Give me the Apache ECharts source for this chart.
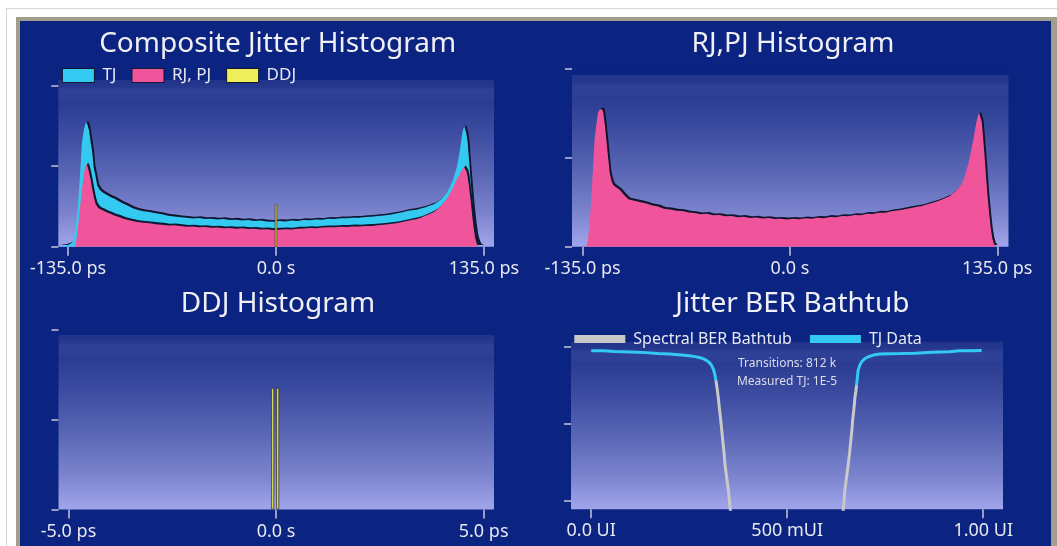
<!DOCTYPE html>
<html><head><meta charset="utf-8">
<script src="https://cdn.jsdelivr.net/npm/echarts@6/dist/echarts.min.js"></script>
<style>
html,body{margin:0;padding:0;background:#fff;width:1057px;height:546px;overflow:hidden;}
#outer{position:absolute;left:6px;top:8px;width:1070px;height:560px;border:1px solid #d6d6d6;box-sizing:border-box;}
#frame{position:absolute;left:16px;top:17px;width:1060px;height:560px;background:#a29e8a;}
#panel{position:absolute;left:20px;top:21px;width:1031px;height:560px;background:#0b2381;}
#chart{position:absolute;left:0;top:0;width:1057px;height:546px;}
</style></head>
<body>
<div id="outer"></div><div id="frame"></div><div id="panel"></div>
<div id="chart"></div>
<script>
// ---------- DATA ----------
// Composite jitter histogram (x in ps)
const compX = [
  -141.5,-137,-134,-132.5,-131,-130,-129,-128,-127,-126,-125,-124,-123.2,-122.3,-121.3,-120.3,-119.3,-118.3,-117.2,-116,-114.5,
  -112.5,-110,-107.5,-105,-102,-99,-96,-93,-90,
  -86,-82,-78,-74,-70,-66,-62,-58,-54,-50,-46,-42,-38,-34,-30,-26,-22,-18,-14,-10,-6,-2,
  2,6,10,14,18,22,26,30,34,38,42,46,50,54,58,62,66,70,74,78,82,
  85,88,91,94,97,100,102.5,105,107,109,111,112.9,114.5,116,117.3,118.5,119.5,120.5,121.3,122,122.8,123.6,124.4,125.2,126,127,128,129.1,130.2,131.3,132.4,134,141.5
];
const compTJ = [
  0,0.6,1.5,2.5,5,12,22,33,48,64,71,75.5,77.2,75.5,72,65,59,49,44,38,35.3,
  33.6,32.2,30.8,29.9,28.2,26.6,25.4,23.9,22.9,
  22.0,21.5,20.7,20.1,19.2,18.8,18.3,17.9,17.5,17.8,17.2,17.4,16.9,17.2,16.6,16.8,16.2,16.5,15.9,16.2,15.6,15.5,
  15.9,15.7,16.2,16.0,16.6,16.4,16.9,16.7,17.3,17.2,17.7,17.6,18.0,17.9,18.4,18.6,19.0,19.3,19.9,20.6,21.4,
  22.1,22.6,23.0,23.7,24.5,25.6,26.4,27.9,29.4,31.3,33.6,37.0,40.5,44.8,49.4,55,61,67.9,72,74.5,73,70,65,55,45,33.5,22.7,13.5,6.2,2.5,0.5,0,0
];
const compRJ = [
  0,0,0,0,0,1.5,8,17,26,35.5,43,49,51.3,49.8,46,41.5,36,31,26.8,24.8,23.4,
  22.6,21.4,20.5,19.3,18.5,17.3,16.5,16.0,15.3,
  14.9,14.5,14.0,13.7,13.2,13.3,12.8,12.4,12.5,12.1,12.2,11.8,11.9,11.5,11.6,11.2,11.4,11.0,11.1,10.7,10.8,10.4,
  10.6,10.8,10.7,11.2,11.3,11.6,11.5,11.9,12.1,12.0,12.4,12.3,12.6,12.5,12.8,12.9,13.3,13.6,14.1,14.6,15.3,
  15.9,16.5,17.1,17.9,19.2,20.5,21.6,23.4,25.3,27.4,29.8,33.0,35.9,38.9,41.6,43.6,45.5,47.4,48.6,49.4,48.8,46.8,43.5,38.0,31.5,22.7,14.0,6.2,2.2,0.3,0,0,0
];
// DDJ components (x in ps)
const ddjX = [-0.08, 0.04];
const compDDJ = [26.3, 26.3];
const ddjY = [67.7, 67.7];

// RJ,PJ histogram (x in ps)
const rjX = [
  -142,-134,-132,-130.5,-129.4,-128.3,-127.2,-126.1,-125,-124,-123.2,-122.4,-121.6,-120.6,-119.5,-118.4,-117.3,-116.2,-115.1,-113,-110.7,-108,-105.2,-102,-98,-94,-90,-86,-82,
  -78,-74,-70,-66,-62,-58,-54,-50,-46,-42,-38,-34,-30,-26,-22,-18,-14,-10,-6,-2,
  2,6,10,14,18,22,26,30,34,38,42,46,50,54,58,62,66,70,74,78,
  82,86,90,93,96,99,102,104,106,108,110,112,113.5,115,116.3,117.5,118.7,119.8,120.8,121.7,122.5,123.2,124,124.9,125.8,126.8,127.8,128.8,129.8,130.8,131.8,132.8,134,142
];
const rjY = [
  0,0,0.5,12,26,43,60,68,74.8,76.8,77.6,77,75.5,69,59.8,50,41.1,37,34.6,33.2,31.8,29.0,26.6,25.9,25.1,24.3,23.2,22.6,21.3,
  20.9,20.2,20.0,19.2,18.9,18.2,18.4,17.6,17.8,17.0,17.2,16.5,16.8,16.1,16.4,15.8,16.1,15.5,15.7,15.3,
  15.6,15.4,15.9,15.7,16.2,16.0,16.7,16.5,17.2,17.0,17.7,17.6,18.5,18.3,19.1,19.0,19.9,20.3,20.9,21.6,
  22.2,22.8,23.9,24.6,25.5,26.4,27.6,28.3,29.8,31.2,33.0,35.4,38.5,43,47,52,57,62,67,71,73.5,74.8,74,70,61,50,38,27,18,10,4.5,1.5,0,0
];

// Jitter BER bathtub (x in UI, y = log10 BER)
const tjLeftX  = [0,0.03,0.06,0.1,0.14,0.17,0.2,0.23,0.25,0.265,0.278,0.287,0.295,0.302,0.307,0.311,0.314,0.316,0.318];
const tjLeftY  = [-0.31,-0.32,-0.38,-0.41,-0.46,-0.52,-0.57,-0.64,-0.70,-0.77,-0.86,-0.95,-1.08,-1.25,-1.45,-1.7,-1.98,-2.25,-2.6];
const specLeftX = [0.318,0.321,0.324,0.327,0.330,0.333,0.336,0.339,0.341,0.344,0.347,0.350,0.353,0.356];
const specLeftY = [-2.6,-3.2,-3.9,-4.8,-5.6,-6.49,-7.4,-8.3,-9.09,-9.8,-10.5,-11.17,-12.1,-13];
const specRightX = [0.677,0.675,0.673,0.670,0.667,0.665,0.662,0.659,0.656,0.653,0.650,0.647,0.645,0.642];
const specRightY = [-2.99,-3.5,-3.9,-4.9,-5.7,-6.49,-7.4,-8.3,-9.09,-9.8,-10.5,-11.17,-12.0,-13];
const tjRightX = [0.677,0.679,0.681,0.685,0.690,0.697,0.707,0.72,0.737,0.76,0.79,0.828,0.87,0.914,0.94,0.97,0.996];
const tjRightY = [-2.99,-2.4,-1.82,-1.45,-1.17,-0.95,-0.78,-0.65,-0.57,-0.55,-0.53,-0.5,-0.44,-0.39,-0.32,-0.31,-0.30];

// Tick values and labels
const histTickVals = [-135, 0, 135];
const histTickLabels = ['-135.0 ps', '0.0 s', '135.0 ps'];
const ddjTickVals = [-5, 0, 5];
const ddjTickLabels = ['-5.0 ps', '0.0 s', '5.0 ps'];
const tubTickVals = [0, 0.5, 1];
const tubTickLabels = ['0.0 UI', '500 mUI', '1.00 UI'];
const histYTicks = [0, 50, 100];
const tubYTicks = [0, -6, -12];

const titles = ['Composite Jitter Histogram', 'RJ,PJ Histogram', 'DDJ Histogram', 'Jitter BER Bathtub'];
const compLegend = ['TJ', 'RJ, PJ', 'DDJ'];
const tubLegend = ['Spectral BER Bathtub', 'TJ Data'];
const tubNotes = ['Transitions: 812 k', 'Measured TJ: 1E-5'];

// ---------- STYLE ----------
const NAVY = '#0b2381';
const CYAN = '#33c9f0';
const PINK = '#f0559b';
const YELLOW = '#eeee5a';
const GRAY = '#c9c9c9';
const OUTLINE = 'rgba(12,16,40,0.95)';
const TXT = '#e8e8f0';
const FONT = '"Noto Sans", "Open Sans", sans-serif';
const PLOT_STOPS = [[0,'#21338a'],[0.04,'#26388d'],[0.06,'#2f4196'],[0.11,'#2e4096'],[0.13,'#2a3c91'],[0.3,'#3a4a9f'],[0.55,'#5865b4'],[0.8,'#7b83cd'],[1,'#a1a6eb']];
function plotBg(navyFrac) {
  const stops = [];
  if (navyFrac > 0) stops.push({offset: 0, color: NAVY}, {offset: navyFrac, color: NAVY});
  PLOT_STOPS.forEach(([o, c]) => stops.push({offset: navyFrac + o * (1 - navyFrac), color: c}));
  return {type: 'linear', x: 0, y: 0, x2: 0, y2: 1, colorStops: stops};
}
const zip = (xs, ys) => xs.map((x, i) => [x, ys[i]]);

function xAxis(idx, min, max, vals, labels) {
  return {
    type: 'value', gridIndex: idx, min: min, max: max, position: 'bottom',
    axisLine: {show: false, onZero: false}, splitLine: {show: false},
    axisTick: {show: true, length: 9, customValues: vals, lineStyle: {color: '#c8c8d8', width: 1.5}},
    axisLabel: {show: true, customValues: vals, margin: 13, color: TXT, fontSize: 18, fontFamily: FONT,
      formatter: v => labels[vals.indexOf(v)]}
  };
}
function yAxis(idx, min, max, vals) {
  return {
    type: 'value', gridIndex: idx, min: min, max: max, position: 'left',
    axisLine: {show: false, onZero: false}, splitLine: {show: false}, axisLabel: {show: false},
    axisTick: {show: true, length: 7, customValues: vals, lineStyle: {color: '#c8c8d8', width: 1.5}}
  };
}
const areaShadow = color => ({color: color, opacity: 1, shadowColor: OUTLINE, shadowOffsetX: 1.8, shadowOffsetY: -1.8, shadowBlur: 0.5});

const chart = echarts.init(document.getElementById('chart'), null, {renderer: 'canvas', devicePixelRatio: 1});
chart.setOption({
  animation: false,
  backgroundColor: 'transparent',
  grid: [
    {left: 58.3, top: 80, width: 435.7, height: 166.7, show: true, borderWidth: 0, backgroundColor: plotBg(0)},
    {left: 572, top: 68.3, width: 436.5, height: 178.4, show: true, borderWidth: 0, backgroundColor: plotBg(0.038)},
    {left: 58.5, top: 330, width: 435.5, height: 179.5, show: true, borderWidth: 0, backgroundColor: plotBg(0.028)},
    {left: 571, top: 341.7, width: 432, height: 167.6, show: true, borderWidth: 0, backgroundColor: plotBg(0)}
  ],
  xAxis: [
    xAxis(0, -141.3, 141.5, histTickVals, histTickLabels),
    xAxis(1, -141.9, 142.3, histTickVals, histTickLabels),
    xAxis(2, -5.24, 5.25, ddjTickVals, ddjTickLabels),
    xAxis(3, -0.0515, 1.0505, tubTickVals, tubTickLabels)
  ],
  yAxis: [
    yAxis(0, 0, 103.5, histYTicks),
    yAxis(1, 0, 100, histYTicks),
    yAxis(2, 0, 100, histYTicks),
    yAxis(3, -12.65, 0.39, tubYTicks)
  ],
  legend: [
    {left: 61.9, top: 67, padding: 0, itemWidth: 32, itemHeight: 14, itemGap: 15, selectedMode: false,
     textStyle: {color: TXT, fontSize: 17, fontFamily: FONT, padding: [0, 0, 0, 3]},
     data: [
       {name: compLegend[0], icon: 'rect', itemStyle: {color: CYAN, borderColor: '#14182e', borderWidth: 1}},
       {name: compLegend[1], icon: 'rect', itemStyle: {color: PINK, borderColor: '#14182e', borderWidth: 1}},
       {name: compLegend[2], icon: 'rect', itemStyle: {color: YELLOW, borderColor: '#14182e', borderWidth: 1}}
     ]},
    {left: 574.3, top: 331, padding: 0, itemWidth: 51, itemHeight: 8, itemGap: 18, selectedMode: false,
     textStyle: {color: TXT, fontSize: 16, fontFamily: FONT, padding: [0, 0, 0, 3]},
     data: [
       {name: tubLegend[0], icon: 'rect', itemStyle: {color: GRAY, borderWidth: 0}},
       {name: tubLegend[1], icon: 'rect', itemStyle: {color: CYAN, borderWidth: 0}}
     ]}
  ],
  graphic: [
    {type: 'text', x: 277.7, y: 44, style: {text: titles[0], fill: '#f0f0f4', font: '28px ' + FONT, textAlign: 'center', textVerticalAlign: 'middle'}},
    {type: 'text', x: 793, y: 44, style: {text: titles[1], fill: '#f0f0f4', font: '28px ' + FONT, textAlign: 'center', textVerticalAlign: 'middle'}},
    {type: 'text', x: 278, y: 304, style: {text: titles[2], fill: '#f0f0f4', font: '28px ' + FONT, textAlign: 'center', textVerticalAlign: 'middle'}},
    {type: 'text', x: 792.4, y: 304, style: {text: titles[3], fill: '#f0f0f4', font: '28px ' + FONT, textAlign: 'center', textVerticalAlign: 'middle'}},
    {type: 'text', x: 787, y: 364, style: {text: tubNotes[0], fill: '#dcdce8', font: '12px ' + FONT, textAlign: 'center', textVerticalAlign: 'middle'}},
    {type: 'text', x: 787, y: 381.5, style: {text: tubNotes[1], fill: '#dcdce8', font: '12px ' + FONT, textAlign: 'center', textVerticalAlign: 'middle'}}
  ],
  series: [
    {name: compLegend[0], type: 'line', xAxisIndex: 0, yAxisIndex: 0, data: zip(compX, compTJ), symbol: 'none',
     lineStyle: {opacity: 0}, itemStyle: {color: CYAN}, areaStyle: areaShadow(CYAN), z: 2},
    {name: compLegend[1], type: 'line', xAxisIndex: 0, yAxisIndex: 0, data: zip(compX, compRJ), symbol: 'none',
     lineStyle: {opacity: 0}, itemStyle: {color: PINK}, areaStyle: areaShadow(PINK), z: 3},
    {name: compLegend[2], type: 'bar', xAxisIndex: 0, yAxisIndex: 0, data: zip(ddjX, compDDJ), barWidth: 2, barGap: '-100%',
     itemStyle: {color: '#e8d24a', borderColor: '#3c3a28', borderWidth: 0.5}, z: 4},
    {type: 'line', xAxisIndex: 1, yAxisIndex: 1, data: zip(rjX, rjY), symbol: 'none',
     lineStyle: {opacity: 0}, itemStyle: {color: PINK}, areaStyle: areaShadow(PINK), z: 3},
    {type: 'bar', xAxisIndex: 2, yAxisIndex: 2, data: zip(ddjX, ddjY), barWidth: 3, barGap: '-100%',
     itemStyle: {color: '#e6e45a', borderColor: '#3a3a30', borderWidth: 0.8}, z: 4},
    {name: tubLegend[0], type: 'line', xAxisIndex: 3, yAxisIndex: 3, data: zip(specLeftX, specLeftY), symbol: 'none',
     lineStyle: {color: GRAY, width: 3}, itemStyle: {color: GRAY}, z: 3},
    {name: tubLegend[0], type: 'line', xAxisIndex: 3, yAxisIndex: 3, data: zip(specRightX, specRightY), symbol: 'none',
     lineStyle: {color: GRAY, width: 3}, itemStyle: {color: GRAY}, z: 3},
    {name: tubLegend[1], type: 'line', xAxisIndex: 3, yAxisIndex: 3, data: zip(tjLeftX, tjLeftY), symbol: 'none',
     lineStyle: {color: CYAN, width: 3}, itemStyle: {color: CYAN}, z: 4},
    {name: tubLegend[1], type: 'line', xAxisIndex: 3, yAxisIndex: 3, data: zip(tjRightX, tjRightY), symbol: 'none',
     lineStyle: {color: CYAN, width: 3}, itemStyle: {color: CYAN}, z: 4}
  ]
});
</script>
</body></html>
